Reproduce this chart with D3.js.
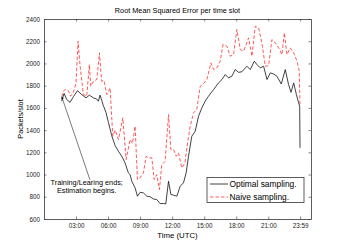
<!DOCTYPE html>
<html>
<head>
<meta charset="utf-8">
<script src="https://cdn.jsdelivr.net/npm/d3@7"></script>
<style>
body { margin: 0; background: #fff; }
svg { font-family: "Liberation Sans", Arial, sans-serif; }
</style>
</head>
<body>
<script>
var w = 343;
var h = 247;
var margin = {top: 19, right: 32, bottom: 28, left: 44};

// time of day in hours
var optimalTime = [1.66, 1.88, 2.13, 2.44, 2.75, 3.13, 3.53, 3.94, 4.25, 4.63, 4.94, 5.09, 5.25, 5.56, 5.8,
    6.03, 6.34, 6.66, 6.97, 7.28, 7.59, 7.9, 8.06, 8.22, 8.53, 8.75, 9.0, 9.31, 9.63, 9.94,
    10.25, 10.56, 10.88, 11.19, 11.4, 11.66, 11.88, 12.13, 12.44, 12.75, 13.06, 13.31, 13.53, 13.84,
    14.16, 14.47, 14.78, 15.09, 15.4, 15.88, 16.34, 16.66, 16.97, 17.28, 17.59, 17.9, 18.22, 18.53,
    19.0, 19.31, 19.69, 19.94, 20.25, 20.56, 20.88, 21.19, 21.5, 21.81, 22.22, 22.59, 22.9, 23.13,
    23.38, 23.63, 23.84, 23.94, 23.97];
var optimalValues = [1660, 1730, 1675, 1650, 1700, 1755, 1720, 1690, 1715, 1690, 1680, 1660, 1715, 1620, 1560,
    1470, 1350, 1260, 1210, 1165, 1105, 1015, 1000, 940, 880, 805, 840, 835, 805, 800,
    780, 775, 738, 740, 735, 940, 820, 815, 805, 895, 925, 1015, 1165, 1345,
    1390, 1525, 1600, 1660, 1705, 1765, 1825, 1855, 1900, 1870, 1885, 1945, 1920, 1925,
    1975, 1945, 2020, 1990, 1960, 1975, 1855, 1915, 1905, 1885, 1815, 1945, 1810, 1740,
    1825, 1720, 1645, 1615, 1240];

var naiveTime = [1.66, 1.8, 1.97, 2.28, 2.5, 2.75, 3.0, 3.19, 3.38, 3.69, 4.0, 4.25, 4.38, 4.63, 4.94,
    5.19, 5.4, 5.63, 5.88, 6.19, 6.44, 6.66, 6.97, 7.38, 7.69, 8.06, 8.28, 8.53, 8.75, 9.0,
    9.31, 9.56, 9.78, 10.1, 10.31, 10.56, 10.81, 11.03, 11.34, 11.66, 11.88, 12.13, 12.38, 12.6,
    12.9, 13.2, 13.44, 13.69, 14.0, 14.3, 14.63, 15.0, 15.25, 15.63, 15.88, 16.19, 16.5, 16.75,
    17.13, 17.44, 17.75, 18.06, 18.38, 18.69, 19.16, 19.47, 19.78, 20.09, 20.4, 20.72, 21.03,
    21.34, 21.66, 21.97, 22.28, 22.5, 22.75, 23.06, 23.38, 23.69, 23.9, 23.97];
var naiveValues = [1700, 1750, 1765, 1755, 1705, 1740, 1825, 2200, 1975, 1720, 1705, 1990, 1795, 1840, 1855,
    2095, 1840, 1845, 1720, 1780, 1345, 1400, 1315, 1510, 1135, 1315, 1280, 1435, 955, 970,
    1015, 1165, 1150, 1150, 955, 1000, 865, 1090, 1120, 1540, 1225, 1225, 1165, 1195,
    1060, 1105, 1285, 1435, 1555, 1585, 1795, 1825, 1855, 2005, 1945, 1960, 2020, 2170,
    2155, 2065, 2080, 2305, 2125, 2110, 2230, 2065, 2335, 2320, 2185, 1975, 1980,
    2215, 2185, 2140, 2080, 2275, 2080, 2140, 2095, 2020, 1930, 1615];

var xTicks = [3, 6, 9, 12, 15, 18, 21, 23 + 59 / 60];
var xTickLabels = ["03:00", "06:00", "09:00", "12:00", "15:00", "18:00", "21:00", "23:59"];
var yTicks = [600, 800, 1000, 1200, 1400, 1600, 1800, 2000, 2200, 2400];
var seriesNames = ["Optimal sampling.", "Naive sampling."];

var xScale = d3.scaleLinear()
    .domain([0, 25])
    .range([margin.left, w - margin.right]);
var yScale = d3.scaleLinear()
    .domain([600, 2400])
    .range([h - margin.bottom, margin.top]);

var svg = d3.select("body")
    .append("svg")
    .attr("width", w)
    .attr("height", h);

svg.append("text")
    .attr("x", (margin.left + w - margin.right) / 2)
    .attr("y", 13)
    .attr("text-anchor", "middle")
    .attr("font-size", "7.3px")
    .text("Root Mean Squared Error per time slot");

// axes, MATLAB style: ticks inside, on all four sides
var tickFmt = function(d, i) { return xTickLabels[i]; };
svg.append("g")
    .attr("transform", "translate(0," + (h - margin.bottom) + ")")
    .call(d3.axisBottom(xScale).tickValues(xTicks).tickFormat(tickFmt).tickSizeInner(-2.5).tickSizeOuter(0).tickPadding(5));
svg.append("g")
    .attr("transform", "translate(0," + margin.top + ")")
    .call(d3.axisTop(xScale).tickValues(xTicks).tickFormat("").tickSizeInner(-2.5).tickSizeOuter(0));
svg.append("g")
    .attr("transform", "translate(" + margin.left + ",0)")
    .call(d3.axisLeft(yScale).tickValues(yTicks).tickFormat(d3.format("d")).tickSizeInner(-2.5).tickSizeOuter(0).tickPadding(4));
svg.append("g")
    .attr("transform", "translate(" + (w - margin.right) + ",0)")
    .call(d3.axisRight(yScale).tickValues(yTicks).tickFormat("").tickSizeInner(-2.5).tickSizeOuter(0));

svg.selectAll(".domain").attr("stroke", "#333").attr("stroke-width", 0.8);
svg.selectAll(".tick line").attr("stroke", "#333").attr("stroke-width", 0.6);
svg.selectAll(".tick text").attr("font-size", "6.3px").attr("font-family", "Liberation Sans, Arial, sans-serif").attr("fill", "#222");

svg.append("text")
    .attr("x", (margin.left + w - margin.right) / 2)
    .attr("y", 238)
    .attr("text-anchor", "middle")
    .attr("font-size", "7.8px")
    .text("Time (UTC)");
svg.append("text")
    .attr("transform", "translate(23," + ((margin.top + h - margin.bottom) / 2) + ") rotate(-90)")
    .attr("text-anchor", "middle")
    .attr("font-size", "7.3px")
    .text("Packets/slot");

var line = d3.line()
    .x(function(d) { return xScale(d[0]); })
    .y(function(d) { return yScale(d[1]); });

svg.append("path")
    .datum(d3.zip(naiveTime, naiveValues))
    .attr("fill", "none")
    .attr("stroke", "#ff3030")
    .attr("stroke-width", 0.8)
    .attr("stroke-dasharray", "3.5,2")
    .attr("d", line);

svg.append("path")
    .datum(d3.zip(optimalTime, optimalValues))
    .attr("fill", "none")
    .attr("stroke", "#111")
    .attr("stroke-width", 0.8)
    .attr("d", line);

// annotation arrow
svg.append("defs").append("marker")
    .attr("id", "head")
    .attr("viewBox", "0 0 10 10")
    .attr("refX", 9).attr("refY", 5)
    .attr("markerWidth", 5).attr("markerHeight", 5)
    .attr("orient", "auto")
    .append("path")
    .attr("d", "M0,1L10,5L0,9Z")
    .attr("fill", "#000");

svg.append("line")
    .attr("x1", xScale(4.3)).attr("y1", yScale(953))
    .attr("x2", xScale(1.66)).attr("y2", yScale(1700))
    .attr("stroke", "#222")
    .attr("stroke-width", 0.6)
    .attr("marker-end", "url(#head)");

svg.append("text")
    .attr("x", xScale(4.0)).attr("y", yScale(910))
    .attr("text-anchor", "middle")
    .attr("font-size", "7.3px")
    .text("Training/Learing ends;");
svg.append("text")
    .attr("x", xScale(4.0)).attr("y", yScale(830))
    .attr("text-anchor", "middle")
    .attr("font-size", "7.3px")
    .text("Estimation begins.");

// legend
var legend = svg.append("g").attr("transform", "translate(207,177.5)");
legend.append("rect")
    .attr("width", 97).attr("height", 25)
    .attr("fill", "#fff")
    .attr("stroke", "#333")
    .attr("stroke-width", 0.8);
seriesNames.forEach(function(name, i) {
    var yy = 6.5 + i * 13;
    legend.append("line")
        .attr("x1", 3).attr("x2", 21)
        .attr("y1", yy).attr("y2", yy)
        .attr("stroke", i == 0 ? "#111" : "#ff3030")
        .attr("stroke-width", 0.8)
        .attr("stroke-dasharray", i == 0 ? null : "3.5,2");
    legend.append("text")
        .attr("x", 22.5).attr("y", yy + 3)
        .attr("font-size", "8.4px")
        .text(name);
});
</script>
</body>
</html>
